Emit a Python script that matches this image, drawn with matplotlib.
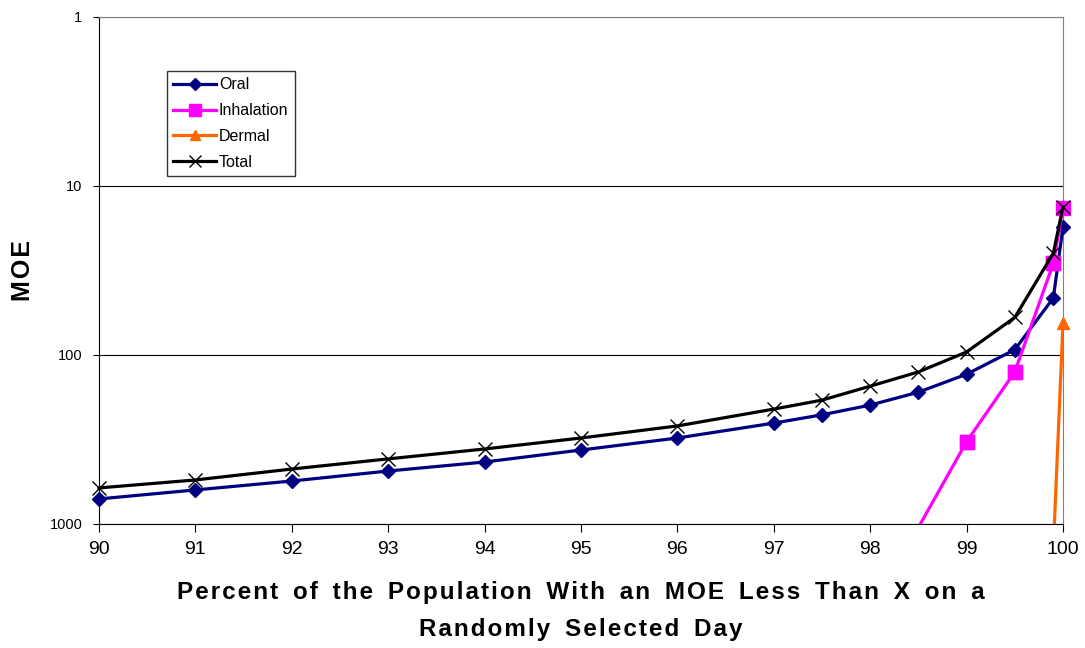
import numpy as np
import matplotlib.pyplot as plt
from matplotlib.ticker import FixedLocator, NullLocator

plt.rcParams["font.family"] = ["Liberation Sans", "DejaVu Sans"]

# percentiles on the x axis
pct = [90, 91, 92, 93, 94, 95, 96, 97, 97.5, 98, 98.5, 99, 99.5, 99.9, 100]

# MOE values (log axis, inverted)
oral = [711, 629, 557, 486, 430, 365, 310, 253, 226, 198, 166, 130, 93, 46, 17.5]
total = [612, 549, 473, 412, 360, 310, 263, 209, 185, 153, 126, 96, 60, 25, 13.3]

inh_pct = [98.5, 99, 99.5, 99.9, 100]
inhalation = [1050, 326, 126, 28.7, 13.5]

derm_pct = [99.9, 100]
dermal = [1400, 65]


def spaced(s):
    # Excel-style wide letter spacing
    return "\u200a".join(s.replace(" ", " \u200a"))


fig = plt.figure(figsize=(10.85, 6.48), dpi=100)
ax = fig.add_axes([0.0912, 0.1914, 0.8885, 0.7824])

lw = 2.3
ax.plot(pct, oral, color="#000080", lw=lw, marker="D", ms=7.5, label="Oral",
        zorder=3, clip_on=False)

# inhalation / dermal: line clipped to the axes, visible markers unclipped
ax.plot(inh_pct, inhalation, color="#FF00FF", lw=lw, marker="s", ms=10,
        markevery=[1, 2, 3], label="Inhalation", zorder=4)
ax.plot(inh_pct[1:], inhalation[1:], ls="none", color="#FF00FF", marker="s",
        ms=10, zorder=4, clip_on=False)
ax.plot(derm_pct, dermal, color="#FF6600", lw=lw, marker="^", ms=9,
        markevery=[], label="Dermal", zorder=4)
ax.plot(derm_pct[1:], dermal[1:], ls="none", color="#FF6600", marker="^",
        ms=9, zorder=4, clip_on=False)

ax.plot(pct, total, color="black", lw=lw, marker="x", ms=10, mew=1.0,
        label="Total", zorder=5, clip_on=False)

ax.set_yscale("log")
ax.set_ylim(1000, 1)
ax.set_xlim(90, 100)
ax.yaxis.set_major_locator(FixedLocator([1, 10, 100, 1000]))
ax.yaxis.set_minor_locator(NullLocator())
ax.set_yticklabels(["1", "10", "100", "1000"], fontsize=10.5)
ax.set_xticks(range(90, 101))
ax.tick_params(axis="x", labelsize=14, direction="out", length=6, pad=6)
ax.tick_params(axis="y", direction="out", length=4, pad=8)

ax.grid(axis="y", color="black", lw=0.8)
for s in ["top", "right"]:
    ax.spines[s].set_color("#808080")
ax.spines["left"].set_color("black")
ax.spines["bottom"].set_color("black")

ax.set_ylabel(spaced("MOE"), fontsize=18, fontweight="bold")
ax.yaxis.set_label_coords(-0.066, 0.5)
ax.set_xlabel(spaced("Percent of the Population With an MOE Less Than X on a") + "\n"
              + spaced("Randomly Selected Day"),
              fontsize=17.5, fontweight="bold", linespacing=1.75, labelpad=17)

lines = ax.get_lines()
leg = ax.legend(handles=[lines[0], lines[1], lines[3], lines[5]],
                loc="upper left", bbox_to_anchor=(0.0705, 0.8935), borderaxespad=0,
                fontsize=11.5, frameon=True, fancybox=False, edgecolor="black",
                handlelength=2.7, handletextpad=0.15, borderpad=0.4,
                labelspacing=0.68, markerscale=0.85)
leg.get_frame().set_linewidth(1.0)

fig.savefig("out.png", dpi=100)
